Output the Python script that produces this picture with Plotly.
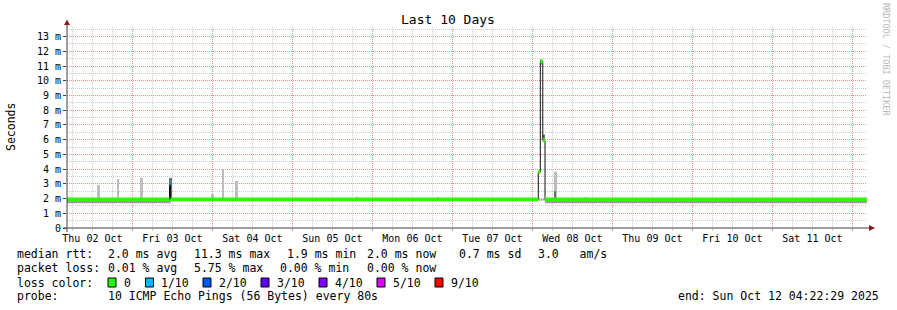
import plotly.graph_objects as go
from datetime import datetime, timedelta

# ---------------- data ----------------
x_start = "2025-10-02 04:22:29"
x_end = "2025-10-12 04:22:29"

day_label_times = ["2025-10-02 12:00", "2025-10-03 12:00", "2025-10-04 12:00", "2025-10-05 12:00",
                   "2025-10-06 12:00", "2025-10-07 12:00", "2025-10-08 12:00", "2025-10-09 12:00",
                   "2025-10-10 12:00", "2025-10-11 12:00"]
day_labels = ["Thu 02 Oct", "Fri 03 Oct", "Sat 04 Oct", "Sun 05 Oct", "Mon 06 Oct",
              "Tue 07 Oct", "Wed 08 Oct", "Thu 09 Oct", "Fri 10 Oct", "Sat 11 Oct"]
midnights = ["2025-10-03", "2025-10-04", "2025-10-05", "2025-10-06", "2025-10-07",
             "2025-10-08", "2025-10-09", "2025-10-10", "2025-10-11", "2025-10-12"]

y_tick_vals = [0, 1, 2, 3, 4, 5, 6, 7, 8, 9, 10, 11, 12, 13]
y_tick_text = ["0", "1 m", "2 m", "3 m", "4 m", "5 m", "6 m", "7 m", "8 m", "9 m",
               "10 m", "11 m", "12 m", "13 m"]

# median rtt (ms), step series, with loss index per step
med_t = ["2025-10-02 04:22:29", "2025-10-03 11:08", "2025-10-03 11:26", "2025-10-08 01:46",
         "2025-10-08 02:22", "2025-10-08 03:06", "2025-10-08 03:47", "2025-10-12 04:22:29"]
med_v = [1.95, 3.0, 1.95, 3.8, 11.3, 5.95, 1.94, 1.94]
med_loss = [0, 1, 0, 0, 0, 0, 0, 0]

# background smoke band (ms)
smoke_t = ["2025-10-02 04:22:29", "2025-10-03 11:30", "2025-10-08 03:47", "2025-10-12 04:22:29"]
smoke_lo = [1.68, 1.86, 1.68, 1.68]
smoke_hi = [1.95, 1.95, 1.95, 1.95]

# light smoke outliers (ms)
light_t = ["2025-10-02 13:40", "2025-10-02 13:58", "2025-10-02 19:40", "2025-10-03 02:35",
           "2025-10-03 02:53", "2025-10-03 23:53", "2025-10-04 00:11", "2025-10-04 03:11",
           "2025-10-04 07:05", "2025-10-04 07:23", "2025-10-05 19:14", "2025-10-06 19:41",
           "2025-10-08 06:47", "2025-10-08 07:05", "2025-10-08 16:00"]
light_lo = [1.95] * 15
light_hi = [2.92, 2.92, 3.33, 3.4, 3.4, 2.3, 2.3, 3.98, 3.2, 3.2, 2.12, 2.1, 3.82, 3.82, 2.1]

# dark smoke (ms)
dark_t = ["2025-10-03 11:08", "2025-10-03 11:26", "2025-10-08 02:40", "2025-10-08 03:25", "2025-10-08 06:50"]
dark_lo = [1.95, 1.95, 11.1, 5.95, 1.95]
dark_hi = [3.4, 3.4, 11.45, 6.35, 2.5]

loss_colors = ["#26ff00", "#00b8ff", "#0059ff", "#5e00ff", "#7e00ff", "#dd00ff", "#ff0000"]
loss_labels = ["0", "1/10", "2/10", "3/10", "4/10", "5/10", "9/10"]

BIN_MS = 18 * 60 * 1000

# ---------------- layout geometry ----------------
L, R, T, B = 67, 867, 27, 228
W, H = 897, 310


def px(x):
    return (x - L) / (R - L)


def py(y):
    return (B - y) / (B - T)


FONT = "DejaVu Sans Mono"

# minor grid positions (every 6 h, skipping midnights) and half-ms
minor_x = []
d0 = datetime(2025, 10, 2)
for d in range(11):
    for h in (6, 12, 18):
        minor_x.append((d0 + timedelta(days=d, hours=h)).strftime("%Y-%m-%d %H:%M"))
minor_y = [k + 0.5 for k in range(14)]

fig = go.Figure()

# smoke band
fig.add_trace(go.Scatter(x=smoke_t, y=smoke_lo, mode="lines", line=dict(width=0, shape="hv"),
                         hoverinfo="skip", showlegend=False))
fig.add_trace(go.Scatter(x=smoke_t, y=smoke_hi, mode="lines", line=dict(width=0, shape="hv"),
                         fill="tonexty", fillcolor="#9c9c9c", hoverinfo="skip", showlegend=False))

# outlier smoke
fig.add_trace(go.Bar(x=light_t, y=[h - l for h, l in zip(light_hi, light_lo)], base=light_lo,
                     width=BIN_MS, marker=dict(color="#bdbdbd", line=dict(width=0)), showlegend=False))
fig.add_trace(go.Bar(x=dark_t, y=[h - l for h, l in zip(dark_hi, dark_lo)], base=dark_lo,
                     width=BIN_MS, marker=dict(color="#6e6e6e", line=dict(width=0)), showlegend=False))

# median black line
fig.add_trace(go.Scatter(x=med_t, y=med_v, mode="lines", line=dict(color="#101010", width=1, shape="hv"),
                         showlegend=False))

# colored median segments by loss
for li, col in enumerate(loss_colors):
    xs, ys = [], []
    for i in range(len(med_t) - 1):
        if med_loss[i] == li:
            xs += [med_t[i], med_t[i + 1], None]
            ys += [med_v[i], med_v[i], None]
    if xs:
        fig.add_trace(go.Scatter(x=xs, y=ys, mode="lines", line=dict(color=col, width=3.8),
                                 showlegend=False))

# invisible trace to activate the label axis
fig.add_trace(go.Scatter(x=[x_start, x_end], y=[0, 0], xaxis="x2", mode="lines",
                         line=dict(width=0), hoverinfo="skip", showlegend=False, opacity=0))

grid_gray = "#cbcbcb"
grid_red = "#f08c8c"

fig.update_layout(
    width=W, height=H,
    margin=dict(l=L, r=W - R, t=T, b=H - B),
    paper_bgcolor="white", plot_bgcolor="white",
    barmode="overlay",
    font=dict(family=FONT, color="#000000", size=10),
    xaxis=dict(
        type="date", range=[x_start, x_end],
        tickvals=midnights, showticklabels=False,
        showgrid=True, gridcolor=grid_red, griddash="1px,1px", gridwidth=1,
        ticks="outside", ticklen=2, tickcolor=grid_red,
        minor=dict(tickmode="array", tickvals=minor_x, showgrid=True,
                   gridcolor=grid_gray, griddash="1px,1px", ticks="outside", ticklen=2, tickcolor=grid_gray),
        zeroline=False, showline=False, fixedrange=True,
    ),
    xaxis2=dict(
        type="date", range=[x_start, x_end], overlaying="x", side="bottom", anchor="y",
        tickvals=day_label_times, ticktext=day_labels, showgrid=False, ticks="",
        ticklabelstandoff=3,
        tickfont=dict(family=FONT, size=10, color="#000000"), showline=False, zeroline=False,
    ),
    yaxis=dict(
        range=[0, 13.65], tickvals=y_tick_vals, ticktext=y_tick_text,
        showgrid=True, gridcolor=grid_red, griddash="1px,1px",
        ticks="outside", ticklen=3, tickcolor="#404040",
        minor=dict(tickmode="array", tickvals=minor_y, showgrid=True, gridcolor=grid_gray, griddash="1px,1px"),
        tickfont=dict(family=FONT, size=10, color="#000000"),
        zeroline=False, showline=False, fixedrange=True,
    ),
)

shapes = []
axis_col = "#404040"
arrow_col = "#8b1a1a"
# axis lines
shapes.append(dict(type="line", xref="paper", yref="paper", x0=px(63), x1=px(870), y0=py(228), y1=py(228),
                   line=dict(color=axis_col, width=1)))
shapes.append(dict(type="line", xref="paper", yref="paper", x0=px(67), x1=px(67), y0=py(232), y1=py(24),
                   line=dict(color=axis_col, width=1)))
# arrows
shapes.append(dict(type="path", xref="paper", yref="paper",
                   path="M {},{} L {},{} L {},{} Z".format(px(869), py(225), px(875), py(228), px(869), py(231)),
                   fillcolor=arrow_col, line=dict(color=arrow_col, width=0)))
shapes.append(dict(type="path", xref="paper", yref="paper",
                   path="M {},{} L {},{} L {},{} Z".format(px(64), py(25), px(67), py(19.5), px(70), py(25)),
                   fillcolor=arrow_col, line=dict(color=arrow_col, width=0)))

annotations = []


def ann(text, x, y, size=11.5, xanchor="left", color="#000000", angle=0):
    annotations.append(dict(text=text, xref="paper", yref="paper", x=px(x), y=py(y), xanchor=xanchor,
                            yanchor="middle", showarrow=False, textangle=angle,
                            font=dict(family=FONT, size=size, color=color)))


# title
ann("Last 10 Days", 448, 19.5, size=13, xanchor="center")
# y axis title
ann("Seconds", 11, 127, size=11.5, xanchor="center", angle=-90)
# watermark
ann("RRDTOOL / TOBI OETIKER", 886, 59, size=8.5, xanchor="center", color="#b8b8b8", angle=90)

# legend lines
row1 = [("median rtt:", 16), ("2.0 ms avg", 107.3), ("11.3 ms max", 193.3), ("1.9 ms min", 286),
        ("2.0 ms now", 365.7), ("0.7 ms sd", 458.3), ("3.0   am/s", 537.3)]
row2 = [("packet loss:", 16), ("0.01 % avg", 107.3), ("5.75 % max", 193.3), ("0.00 % min", 279.3),
        ("0.00 % now", 365.7)]
for t, x in row1:
    ann(t, x - 1, 254)
for t, x in row2:
    ann(t, x - 1, 268)
ann("loss color:", 15, 282.5)
box_x = [108, 145.5, 203, 261, 319, 377, 435]
lab_x = [123.3, 160.3, 218.3, 276.3, 334.3, 392, 450]
for col, lab, bx, lx in zip(loss_colors, loss_labels, box_x, lab_x):
    shapes.append(dict(type="rect", xref="paper", yref="paper", x0=px(bx), x1=px(bx + 8),
                       y0=py(287), y1=py(278), fillcolor=col, line=dict(color="#000000", width=1)))
    ann(lab, lx - 1, 282.5)
ann("probe:", 15, 296)
ann("10 ICMP Echo Pings (56 Bytes) every 80s", 106.3, 296)
ann("end: Sun Oct 12 04:22:29 2025", 881, 296, xanchor="right")

fig.update_layout(shapes=shapes, annotations=annotations)

fig.write_html("out.html")
